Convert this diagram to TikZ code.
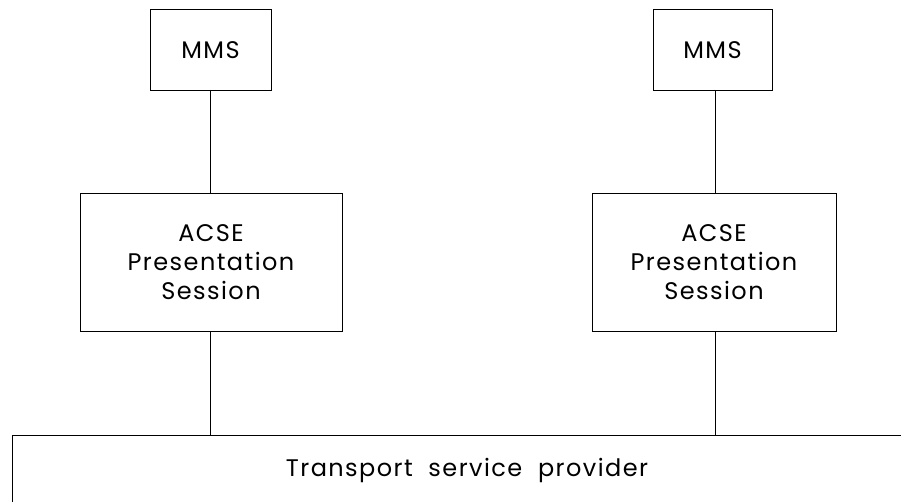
\documentclass[tikz,border=0pt]{standalone}
\usepackage{fontspec}
\setmainfont{Poppins}[LetterSpace=6]
\usetikzlibrary{positioning}
\tikzset{
  layer/.style={draw, line width=1pt, align=center, inner sep=0pt,
    font=\fontsize{24}{29}\selectfont},
  link/.style={line width=1pt},
}
\begin{document}
\begin{tikzpicture}[x=1pt,y=-1pt]
  \useasboundingbox (0,0) rectangle (901,502);
  % application entities
  \node[layer, minimum width=121pt, minimum height=81pt] (mmsA) at (210.5,50.5) {MMS};
  \node[layer, minimum width=119pt, minimum height=81pt] (mmsB) at (712.5,50.5) {MMS};
  \node[layer, minimum width=262pt, minimum height=137pt] (acseA) at (211,262.5) {ACSE\\Presentation\\Session};
  \node[layer, minimum width=244pt, minimum height=137pt] (acseB) at (714,262.5) {ACSE\\Presentation\\Session};
  % transport provider
  \draw[link] (905,435) -- (12,435) -- (12,506);
  \node[font=\fontsize{24}{24}\selectfont] (tsp) at (467,470) {Transport\ \ service\ \ provider};
  \coordinate (tA) at (210,435);
  \coordinate (tB) at (715,435);
  \draw[link] (mmsA.south -| tA) -- (acseA.north -| tA);
  \draw[link] (mmsB.south -| tB) -- (acseB.north -| tB);
  \draw[link] (acseA.south -| tA) -- (tA);
  \draw[link] (acseB.south -| tB) -- (tB);
\end{tikzpicture}
\end{document}
